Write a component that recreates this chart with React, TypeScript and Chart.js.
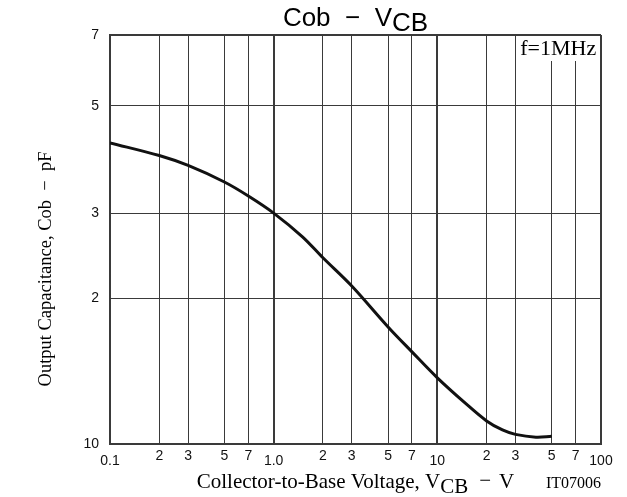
import React, { useEffect, useRef } from 'react';
import { Chart, registerables } from 'chart.js';

Chart.register(...registerables);

// Curve: collector-to-base voltage (V) vs output capacitance (pF)
const voltageValues = [0.1, 0.2, 0.3, 0.5, 0.7, 1, 1.5, 2, 3, 5, 7, 10, 15, 20, 25, 30, 40, 50];
const capacitanceValues = [4.19, 3.945, 3.763, 3.478, 3.254, 3.0, 2.68, 2.425, 2.12, 1.745, 1.55, 1.37, 1.21, 1.116, 1.069, 1.047, 1.033, 1.037];

const xTickValues = [0.1, 0.2, 0.3, 0.5, 0.7, 1, 2, 3, 5, 7, 10, 20, 30, 50, 70, 100];
const xTickLabels = ['0.1', '2', '3', '5', '7', '1.0', '2', '3', '5', '7', '10', '2', '3', '5', '7', '100'];
const yTickValues = [1, 2, 3, 5, 7];
const yTickLabels = ['10', '2', '3', '5', '7'];

const chartTitle = 'Cob  \u2212  V';
const chartTitleSub = 'CB';
const xAxisTitle = 'Collector-to-Base Voltage, V';
const xAxisTitleSub = 'CB';
const xAxisUnit = 'V';
const yAxisTitle = 'Output Capacitance, Cob  \u2212  pF';
const figureCode = 'IT07006';
const conditionText = 'f=1MHz';

const SANS = '"Liberation Sans", Arial, sans-serif';
const SERIF = '"Liberation Serif", "Times New Roman", serif';
const GRID = '#3a3a3a';

const isDecade = (v: number) => [0.1, 1, 10, 100].some((d) => Math.abs(v - d) < 1e-9);

const textPlugin = {
  id: 'datasheetText',
  afterDraw(chart: any) {
    const { ctx, chartArea } = chart;
    const xs = chart.scales.x;
    ctx.save();
    ctx.fillStyle = '#000';
    ctx.textBaseline = 'alphabetic';
    ctx.textAlign = 'left';
    const cx = (chartArea.left + chartArea.right) / 2;

    // Chart title
    ctx.font = `26px ${SANS}`;
    const w1 = ctx.measureText(chartTitle).width;
    const w2 = ctx.measureText(chartTitleSub).width;
    let sx = cx - (w1 + w2) / 2;
    ctx.fillText(chartTitle, sx, 26);
    ctx.fillText(chartTitleSub, sx + w1, 31);

    // X axis title
    ctx.font = `21px ${SERIF}`;
    const a = ctx.measureText(xAxisTitle).width;
    const b = ctx.measureText(xAxisTitleSub).width;
    const dash = ctx.measureText('\u2212').width;
    const u = ctx.measureText(xAxisUnit).width;
    const gap1 = 11;
    const gap2 = 8;
    const total = a + b + gap1 + dash + gap2 + u;
    sx = cx - total / 2;
    ctx.fillText(xAxisTitle, sx, 488);
    ctx.fillText(xAxisTitleSub, sx + a, 493);
    ctx.fillText('\u2212', sx + a + b + gap1, 487);
    ctx.fillText(xAxisUnit, sx + a + b + gap1 + dash + gap2, 488);

    ctx.font = `16px ${SERIF}`;
    ctx.textAlign = 'right';
    ctx.fillText(figureCode, chartArea.right, 488);

    // Y axis title
    ctx.save();
    ctx.translate(51, 269);
    ctx.rotate(-Math.PI / 2);
    ctx.font = `18.5px ${SERIF}`;
    ctx.textAlign = 'center';
    ctx.fillText(yAxisTitle, 0, 0);
    ctx.restore();

    // Condition box
    const bx = xs.getPixelForValue(30);
    const top = chartArea.top;
    ctx.fillStyle = '#fff';
    ctx.fillRect(bx + 1, top + 1, chartArea.right - bx - 2, 25);
    ctx.fillStyle = '#000';
    ctx.font = `22px ${SERIF}`;
    ctx.textAlign = 'center';
    ctx.fillText(conditionText, (bx + chartArea.right) / 2, top + 20);
    ctx.restore();
  },
};

export default function App() {
  const canvasRef = useRef<HTMLCanvasElement | null>(null);

  useEffect(() => {
    const canvas = canvasRef.current;
    if (!canvas) return;
    const points = voltageValues.map((v, i) => ({ x: v, y: capacitanceValues[i] }));
    const chart = new Chart(canvas, {
      type: 'line',
      data: {
        datasets: [
          {
            data: points,
            borderColor: '#111',
            borderWidth: 3,
            pointRadius: 0,
            fill: false,
            tension: 0.35,
          },
        ],
      },
      options: {
        responsive: false,
        animation: false,
        layout: { padding: { top: 35, right: 26, left: 0, bottom: 0 } },
        plugins: { legend: { display: false }, title: { display: false }, tooltip: { enabled: false } },
        scales: {
          x: {
            type: 'logarithmic',
            min: 0.1,
            max: 100,
            afterBuildTicks: (s: any) => {
              s.ticks = xTickValues.map((v) => ({ value: v }));
            },
            afterFit: (s: any) => {
              s.height = 53;
            },
            border: { display: true, color: GRID, width: 2 },
            grid: {
              drawTicks: false,
              color: GRID,
              lineWidth: (c: any) => (c.tick && isDecade(c.tick.value) ? 2 : 1),
            },
            ticks: {
              autoSkip: false,
              maxRotation: 0,
              minRotation: 0,
              padding: 2,
              color: '#111',
              font: (c: any) => ({
                family: SANS,
                size: 14,
                lineHeight: c.tick && isDecade(c.tick.value) ? 2.1 : 1.5,
              }),
              callback: (_v: any, i: number) => xTickLabels[i],
            },
          },
          y: {
            type: 'logarithmic',
            min: 1,
            max: 7,
            afterBuildTicks: (s: any) => {
              s.ticks = yTickValues.map((v) => ({ value: v }));
            },
            afterFit: (s: any) => {
              s.width = 110;
            },
            border: { display: true, color: GRID, width: 2 },
            grid: {
              drawTicks: false,
              color: GRID,
              lineWidth: (c: any) => (c.tick && c.tick.value === 7 ? 2 : 1),
            },
            ticks: {
              autoSkip: false,
              padding: 11,
              color: '#111',
              font: { family: SANS, size: 14 },
              callback: (_v: any, i: number) => yTickLabels[i],
            },
          },
        },
      },
      plugins: [textPlugin],
    } as any);
    return () => chart.destroy();
  }, []);

  return (
    <div style={{ position: 'absolute', left: 0, top: 0, width: 627, height: 497, background: '#fff' }}>
      <canvas ref={canvasRef} width={627} height={497} style={{ display: 'block' }} />
    </div>
  );
}
